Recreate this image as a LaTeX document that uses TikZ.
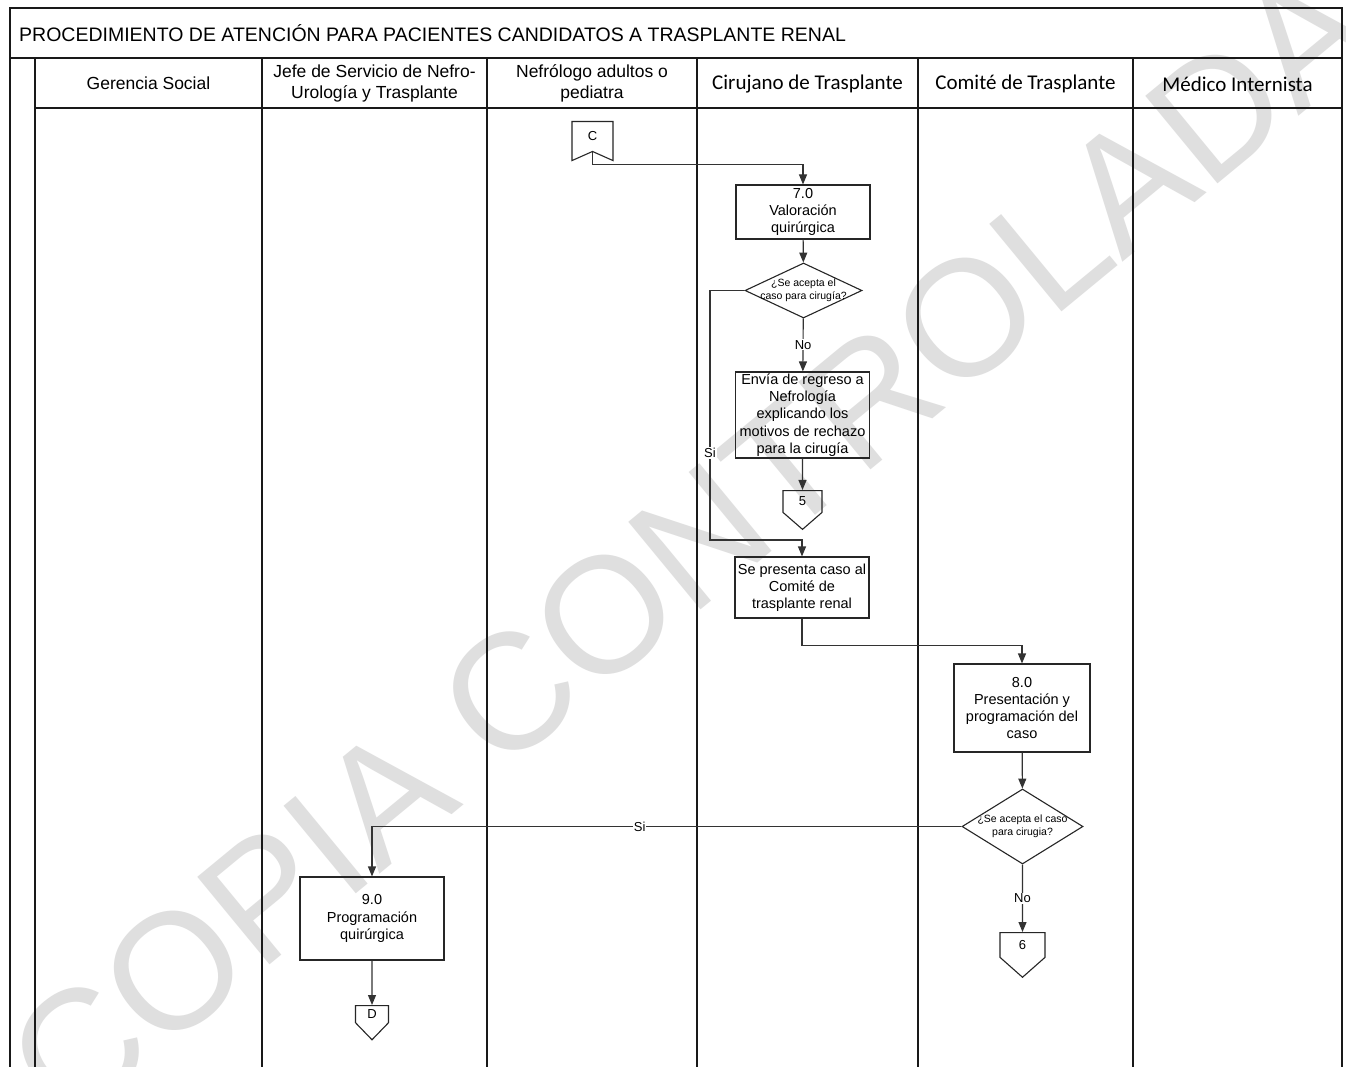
\documentclass[tikz,border=0pt]{standalone}
\usepackage{fontspec}
\setmainfont{Liberation Sans}
\newfontfamily\calibri{Carlito}
\usetikzlibrary{arrows.meta, positioning, shapes.geometric, shapes.symbols}
\tikzset{
>={Triangle[length=10pt,width=8pt]}, % solid heads like the scan
flow/.style={->, draw=black!80, line width=1.1pt},
frame/.style={draw=black!90, line width=1.2pt},
lane/.style={align=center, font=\fontsize{17.5}{21}\selectfont},
lanec/.style={font=\calibri\fontsize{21}{25}\selectfont},
proc/.style={draw=black!85, line width=1.1pt, rectangle, minimum width=134pt, align=center, inner sep=1pt, font=\fontsize{14.5}{17.2}\selectfont},
decision/.style={draw=black!85, line width=1.1pt, diamond, minimum width=117pt, minimum height=55pt, inner sep=0pt},
dtext/.style={align=center, inner sep=0pt, font=\fontsize{10.5}{12.5}\selectfont},
offpage/.style={draw=black!85, line width=1.1pt, signal, signal to=south, signal from=nowhere, signal pointer angle=98, inner sep=0pt, minimum width=39pt, minimum height=25pt, font=\fontsize{13}{15}\selectfont},
onpage/.style={draw=black!85, line width=1.1pt, signal, signal from=south, signal to=nowhere, signal pointer angle=132, inner sep=0pt, minimum width=41pt, minimum height=32pt, font=\fontsize{13}{15}\selectfont},
lbl/.style={fill=white, inner sep=1pt, font=\fontsize{13}{15}\selectfont},
}

\begin{document}
\begin{tikzpicture}[x=1pt, y=-1pt]
\fill[white, use as bounding box] (0,0) rectangle (1346,1067);

% watermark
\node[rotate=39.5, text=gray!25, font=\fontsize{165}{165}\selectfont] (wm) at (690,545) {COPIA CONTROLADA};

% frame and lanes
\draw[frame] (10,1067) -- (10,8) -- (1342,8) -- (1342,1067);
\draw[frame] (10,58) -- (1342,58);
\draw[frame] (35,108) -- (1342,108);
\draw[frame] (35,58) -- (35,1067);
\draw[frame] (262,58) -- (262,1067);
\draw[frame] (487,58) -- (487,1067);
\draw[frame] (697,58) -- (697,1067);
\draw[frame] (918,58) -- (918,1067);
\draw[frame] (1133,58) -- (1133,1067);

\node[anchor=west, inner sep=0pt, font=\fontsize{19.5}{22}\selectfont] (title) at (19,33) {PROCEDIMIENTO DE ATENCIÓN PARA PACIENTES CANDIDATOS A TRASPLANTE RENAL};

\node[lane] (gs) at (148.5,83) {Gerencia Social};
\node[lane] (jefe) at (374.5,83) {Jefe de Servicio de Nefro-\\Urología y Trasplante};
\node[lane] (nefro) at (592,83) {Nefrólogo adultos o\\pediatra};
\node[lanec] (ciru) at (807.5,84) {Cirujano de Trasplante};
\node[lanec] (comi) at (1025.5,84) {Comité de Trasplante};
\node[lanec] (medi) at (1237.5,84) {Médico Internista};

% steps
\node[onpage, anchor=north] (cC) at (592.5,121) {C};
\node[proc, minimum height=54pt] (v7) at (803,212) {7.0\\Valoración\\quirúrgica};
\node[decision] (d1) at (803.5,290.5) {};
\node[dtext] (d1t) at (d1) {¿Se acepta el\\caso para cirugía?};
\node[proc, minimum height=86pt] (envia) at (802.5,415) {Envía de regreso a\\Nefrología\\explicando los\\motivos de rechazo\\para la cirugía};
\node[offpage, anchor=north] (c5) at (802.5,490) {5};
\node[proc, minimum height=61pt] (presenta) at (802,587.5) {Se presenta caso al\\Comité de\\trasplante renal};
\node[proc, minimum width=136pt, minimum height=88pt] (p8) at (1022,708) {8.0\\Presentación y\\programación del\\caso};
\node[decision, minimum width=121pt, minimum height=75pt] (d2) at (1022.5,826.5) {};
\node[dtext] (d2t) at (d2) {¿Se acepta el caso\\para cirugia?};
\node[offpage, anchor=north, minimum width=45pt, minimum height=28pt, signal pointer angle=97] (c6) at (1022.5,932) {6};
\node[proc, minimum width=144pt, minimum height=83pt] (p9) at (372,918.5) {9.0\\Programación\\quirúrgica};
\node[offpage, anchor=north, minimum width=33pt, minimum height=22pt, signal pointer angle=88] (cD) at (372,1005) {D};

\coordinate (k1) at (710,540);

% connectors
\draw[flow] (cC.south) -- ++(0,12) -| (v7.north);
\draw[flow] (v7) -- (d1);
\draw[flow] (d1) -- node[lbl] {No} (envia);
\draw[flow] (envia) -- (c5);
\draw[flow] (d1.west) -| node[lbl, pos=0.826] {Si} (k1) -| (presenta.north);
\draw[flow] (presenta.south) -- ++(0,27) -| (p8.north);
\draw[flow] (p8) -- (d2);
\draw[flow] (d2.west) -| node[lbl, pos=0.273] {Si} (p9.north);
\draw[flow] (d2) -- node[lbl] {No} (c6);
\draw[flow] (p9) -- (cD);
\end{tikzpicture}
\end{document}
